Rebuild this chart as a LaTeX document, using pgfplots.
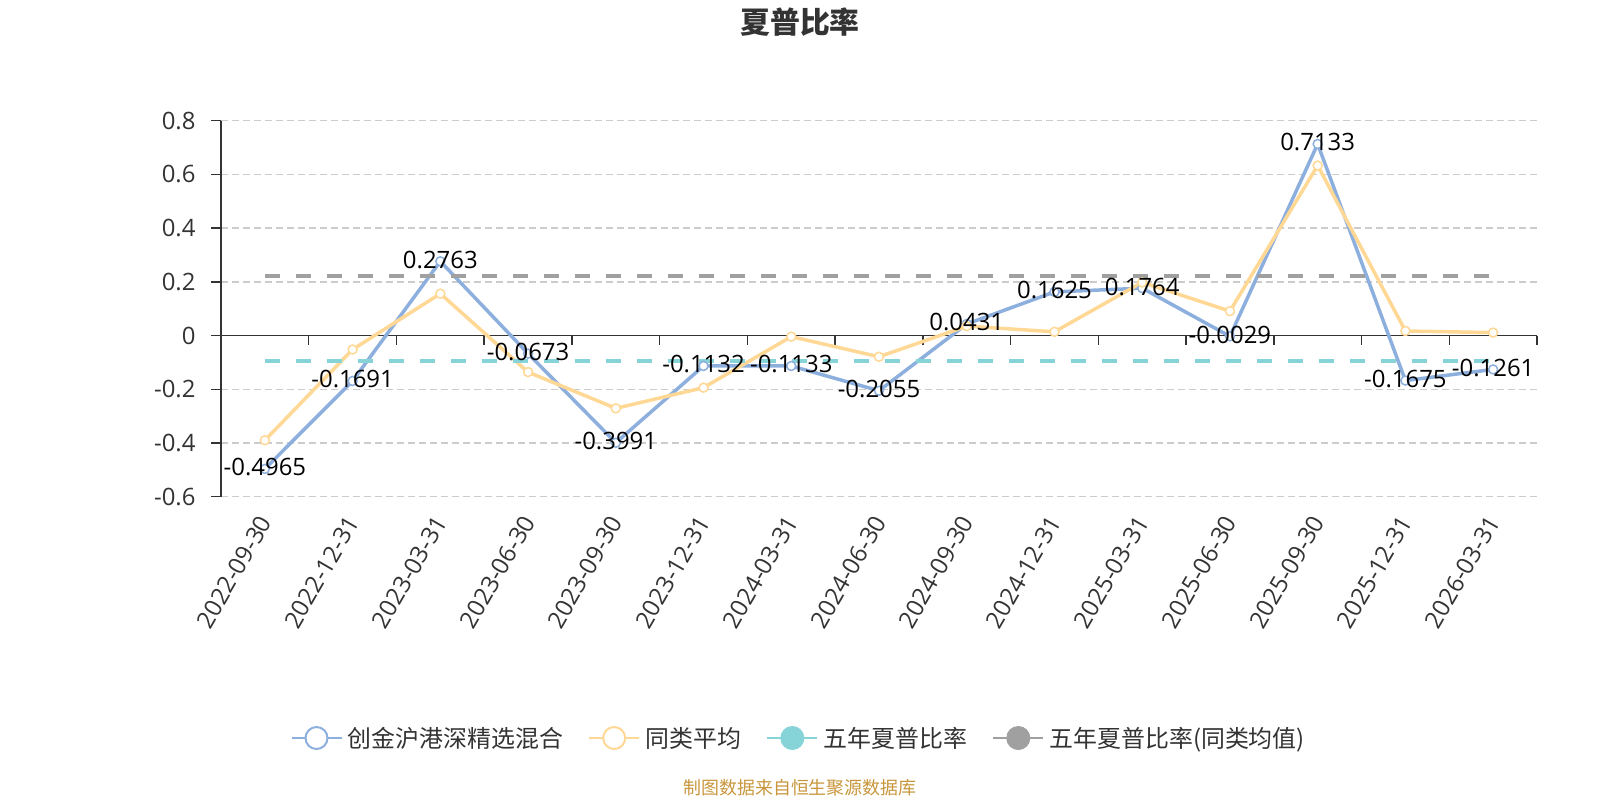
\documentclass[border=0pt]{standalone}
\usepackage{fontspec}
\setmainfont{Open Sans}
\newfontfamily\cjk{Noto Sans CJK SC}
\usepackage{pgfplots}
\pgfplotsset{compat=1.18}
\usepackage{pgfplotstable}

\definecolor{cblue}{RGB}{141,175,222}
\definecolor{cyellow}{RGB}{255,216,150}
\definecolor{cteal}{RGB}{135,212,216}
\definecolor{cgray}{RGB}{160,160,160}
\definecolor{c333}{RGB}{51,51,51}
\definecolor{cgrid}{RGB}{204,204,204}
\definecolor{csrc}{RGB}{200,150,60}

\pgfplotstableread{
x y label
0 -0.4965 -0.4965
1 -0.1691 -0.1691
2 0.2763 0.2763
3 -0.0673 -0.0673
4 -0.3991 -0.3991
5 -0.1132 -0.1132
6 -0.1133 -0.1133
7 -0.2055 -0.2055
8 0.0431 0.0431
9 0.1625 0.1625
10 0.1764 0.1764
11 -0.0029 -0.0029
12 0.7133 0.7133
13 -0.1675 -0.1675
14 -0.1261 -0.1261
}\fund

\pgfplotstableread{
x y
0 -0.390
1 -0.052
2 0.156
3 -0.136
4 -0.271
5 -0.194
6 -0.004
7 -0.079
8 0.035
9 0.014
10 0.198
11 0.091
12 0.633
13 0.017
14 0.011
}\avg

\pgfplotstableread{
x y
0 -0.093
14 -0.093
}\fiveyr

\pgfplotstableread{
x y
0 0.223
14 0.223
}\fiveyravg

\begin{document}
\begin{tikzpicture}
\useasboundingbox (0,0) rectangle (1600bp,800bp);
\begin{axis}[
  at={(221bp,303.3bp)}, anchor=south west,
  scale only axis, width=1316bp, height=376bp,
  xmin=-0.5, xmax=14.5, ymin=-0.6, ymax=0.8,
  axis x line*=bottom, axis y line*=left,
  x axis line style={draw=none},
  y axis line style={c333, line width=1.5bp, -},
  xtick={0,...,14},
  xticklabels={2022-09-30,2022-12-31,2023-03-31,2023-06-30,2023-09-30,2023-12-31,2024-03-31,2024-06-30,2024-09-30,2024-12-31,2025-03-31,2025-06-30,2025-09-30,2025-12-31,2026-03-31},
  x tick style={draw=none},
  xticklabel style={rotate=60, anchor=east, font=\fontsize{24}{28}\selectfont, text=c333, yshift=-6bp, xshift=-6bp},
  ytick={-0.6,-0.4,-0.2,0,0.2,0.4,0.6,0.8},
  yticklabels={-0.6,-0.4,-0.2,0,0.2,0.4,0.6,0.8},
  y tick style={c333, line width=1.5bp},
  tick align=outside, major tick length=10bp,
  yticklabel style={font=\fontsize{24}{28}\selectfont, text=c333, xshift=-12bp},
  ymajorgrids,
  grid style={cgrid, line width=1.5bp, dash pattern=on 7bp off 4bp},
  clip=false,
  legend style={at={(0.44,-0.6418)}, anchor=center, draw=none, fill=none,
    legend columns=4, font=\fontsize{24}{28}\selectfont\cjk, text=c333,
    /tikz/every even column/.append style={column sep=20bp},
    nodes={inner sep=5bp}},
  legend cell align=left,
]
\draw[c333, line width=1.5bp] (axis cs:-0.5,0) -- (axis cs:14.5,0);
\pgfplotsinvokeforeach{-0.5,0.5,1.5,2.5,3.5,4.5,5.5,6.5,7.5,8.5,9.5,10.5,11.5,12.5,13.5,14.5}{
  \draw[c333, line width=1.5bp] (axis cs:#1,0) -- (axis cs:#1,-0.037);
}
\addplot[cblue, line width=3.5bp, mark=*, mark size=4.5bp,
  mark options={fill=white, line width=1.5bp},
  legend image code/.code={
    \draw[cblue, solid, line width=2.5bp] (0bp,0bp) -- (50bp,0bp);
    \draw[cblue, solid, line width=2bp, fill=white] (25bp,0bp) circle (11bp);}]
  table[x=x,y=y]{\fund};
\addlegendentry{创金沪港深精选混合}
\addplot[cyellow, line width=3.5bp, mark=*, mark size=4.5bp,
  mark options={fill=white, line width=1.5bp},
  legend image code/.code={
    \draw[cyellow, solid, line width=2.5bp] (0bp,0bp) -- (50bp,0bp);
    \draw[cyellow, solid, line width=2bp, fill=white] (25bp,0bp) circle (11bp);}]
  table[x=x,y=y]{\avg};
\addlegendentry{同类平均}
\addplot[cteal, line width=4bp, dash pattern=on 15bp off 16bp, mark=none,
  legend image code/.code={
    \draw[cteal, solid, line width=2.5bp] (0bp,0bp) -- (50bp,0bp);
    \draw[cteal, solid, line width=1bp, fill=cteal] (25bp,0bp) circle (11.5bp);}]
  table[x=x,y=y]{\fiveyr};
\addlegendentry{五年夏普比率}
\addplot[cgray, line width=4bp, dash pattern=on 15bp off 16bp, mark=none,
  legend image code/.code={
    \draw[cgray, solid, line width=2.5bp] (0bp,0bp) -- (50bp,0bp);
    \draw[cgray, solid, line width=1bp, fill=cgray] (25bp,0bp) circle (11.5bp);}]
  table[x=x,y=y]{\fiveyravg};
\addlegendentry{五年夏普比率(同类均值)}
\addplot[draw=none, mark=none, forget plot,
  point meta=explicit symbolic,
  nodes near coords={\pgfplotspointmeta},
  every node near coord/.append style={anchor=center, font=\fontsize{24}{28}\selectfont, text=black, yshift=1.5bp, inner sep=0pt}]
  table[x=x,y=y,meta=label]{\fund};
\end{axis}
\node[font=\cjk\bfseries\fontsize{30}{34}\selectfont, text=c333] at (800bp,777.5bp) {夏普比率};
\node[font=\cjk\fontsize{18}{22}\selectfont, text=csrc] at (800bp,12bp) {制图数据来自恒生聚源数据库};
\end{tikzpicture}
\end{document}
